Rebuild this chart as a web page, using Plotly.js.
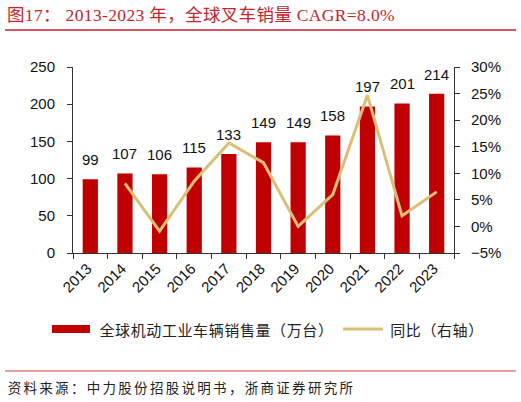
<!DOCTYPE html>
<html>
<head>
<meta charset="utf-8">
<script src="https://cdn.plot.ly/plotly-3.0.1.min.js"></script>
<style>
html,body{margin:0;padding:0;background:#fff;}#chart{width:521px;height:402px;}
g.annotation[data-index="11"] text, g.annotation[data-index="12"] text {letter-spacing:0.6px;}
g.annotation[data-index="13"] text {letter-spacing:2.3px;}
.gtitle {letter-spacing:0.35px;}
</style>
</head>
<body>
<div id="chart"></div>
<script>
const years = ['2013','2014','2015','2016','2017','2018','2019','2020','2021','2022','2023'];
const sales = [99, 107, 106, 115, 133, 149, 149, 158, 197, 201, 214];
const yoyYears = ['2014','2015','2016','2017','2018','2019','2020','2021','2022','2023'];
const yoy = [8.1, -0.9, 8.5, 15.7, 12.0, 0.0, 6.0, 24.7, 2.0, 6.5];
const barName = '全球机动工业车辆销售量（万台）';
const lineName = '同比（右轴）';
const titleText = '图17： 2013-2023 年，全球叉车销量 CAGR=8.0%';
const sourceText = '资料来源：中力股份招股说明书，浙商证券研究所';

const W = 521, H = 402;
const L = 73, R = 454, T = 67, B = 253;
const px = x => (x - L) / (R - L);
const py = y => (B - y) / (B - T);

const sans = 'Liberation Sans, Arial, Noto Sans CJK SC, sans-serif';
const cjk = 'Noto Sans CJK SC, sans-serif';
const barColor = '#c00000';
const lineColor = '#d9bf77';

const traces = [
  {type: 'bar', x: years, y: sales, name: barName, marker: {color: barColor}, yaxis: 'y', hoverinfo: 'skip'},
  {type: 'scatter', mode: 'lines', x: yoyYears, y: yoy, name: lineName, yaxis: 'y2', line: {color: lineColor, width: 3}, hoverinfo: 'skip'}
];

const annotations = years.map((yr, i) => ({
  x: i, y: sales[i], xref: 'x', yref: 'y', text: String(sales[i]), showarrow: false,
  yanchor: 'bottom', yshift: 9, font: {family: sans, size: 15, color: '#111'}
}));
annotations.push({xref: 'paper', yref: 'paper', x: px(97), y: py(329), xanchor: 'left', yanchor: 'middle', xshift: 0.6 * barName.length / 2,
  text: barName, showarrow: false, font: {family: cjk, size: 15, color: '#222'}});
annotations.push({xref: 'paper', yref: 'paper', x: px(388), y: py(329), xanchor: 'left', yanchor: 'middle', xshift: 0.6 * lineName.length / 2,
  text: lineName, showarrow: false, font: {family: cjk, size: 15, color: '#222'}});
annotations.push({xref: 'paper', yref: 'paper', x: px(6), y: py(387), xanchor: 'left', yanchor: 'middle', xshift: 2.3 * sourceText.length / 2,
  text: sourceText, showarrow: false, font: {family: cjk, size: 13.5, color: '#222'}});

const shapes = [
  {type: 'line', xref: 'paper', yref: 'paper', x0: px(5), x1: px(516), y0: py(30), y1: py(30), line: {color: '#c0262d', width: 1.5}},
  {type: 'line', xref: 'paper', yref: 'paper', x0: px(5), x1: px(516), y0: py(371), y1: py(371), line: {color: '#d98080', width: 1.5}},
  {type: 'rect', xref: 'paper', yref: 'paper', x0: px(52), x1: px(90), y0: py(333), y1: py(325), fillcolor: barColor, line: {width: 0}},
  {type: 'line', xref: 'paper', yref: 'paper', x0: px(343), x1: px(383), y0: py(329), y1: py(329), line: {color: lineColor, width: 3}}
];

const layout = {
  width: W, height: H, autosize: false,
  margin: {l: L, r: W - R, t: T, b: H - B, pad: 0},
  paper_bgcolor: '#fff', plot_bgcolor: '#fff',
  showlegend: false,
  bargap: 0.56,
  title: {text: titleText, x: 7 / W, xanchor: 'left', xref: 'container', y: 1 - 15 / H, yanchor: 'middle', yref: 'container',
    font: {family: 'Liberation Serif, Times New Roman, Noto Sans CJK SC, serif', size: 17.5, color: '#c0262d'}},
  xaxis: {type: 'category', range: [-0.5, years.length - 0.5], autorange: false, showgrid: false, showline: true, linecolor: '#333', linewidth: 1,
    ticks: 'outside', ticklen: 5, tickcolor: '#333', tickson: 'boundaries', tickangle: -45, ticklabelshift: -3,
    tickfont: {family: sans, size: 15, color: '#111'}, zeroline: false},
  yaxis: {range: [0, 250], dtick: 50, showgrid: false, showline: true, linecolor: '#333', linewidth: 1,
    ticks: 'outside', ticklen: 5, tickcolor: '#333', zeroline: false,
    tickfont: {family: sans, size: 15, color: '#111'}, ticklabelstandoff: 9},
  yaxis2: {range: [-5, 30], dtick: 5, ticksuffix: '%', overlaying: 'y', side: 'right', showgrid: false,
    showline: true, linecolor: '#333', linewidth: 1, ticks: 'outside', ticklen: 5, tickcolor: '#333', zeroline: false,
    tickfont: {family: sans, size: 15, color: '#111'}, ticklabelstandoff: 8},
  annotations: annotations,
  shapes: shapes
};

Plotly.newPlot('chart', traces, layout, {displayModeBar: false, staticPlot: true});
</script>
</body>
</html>
